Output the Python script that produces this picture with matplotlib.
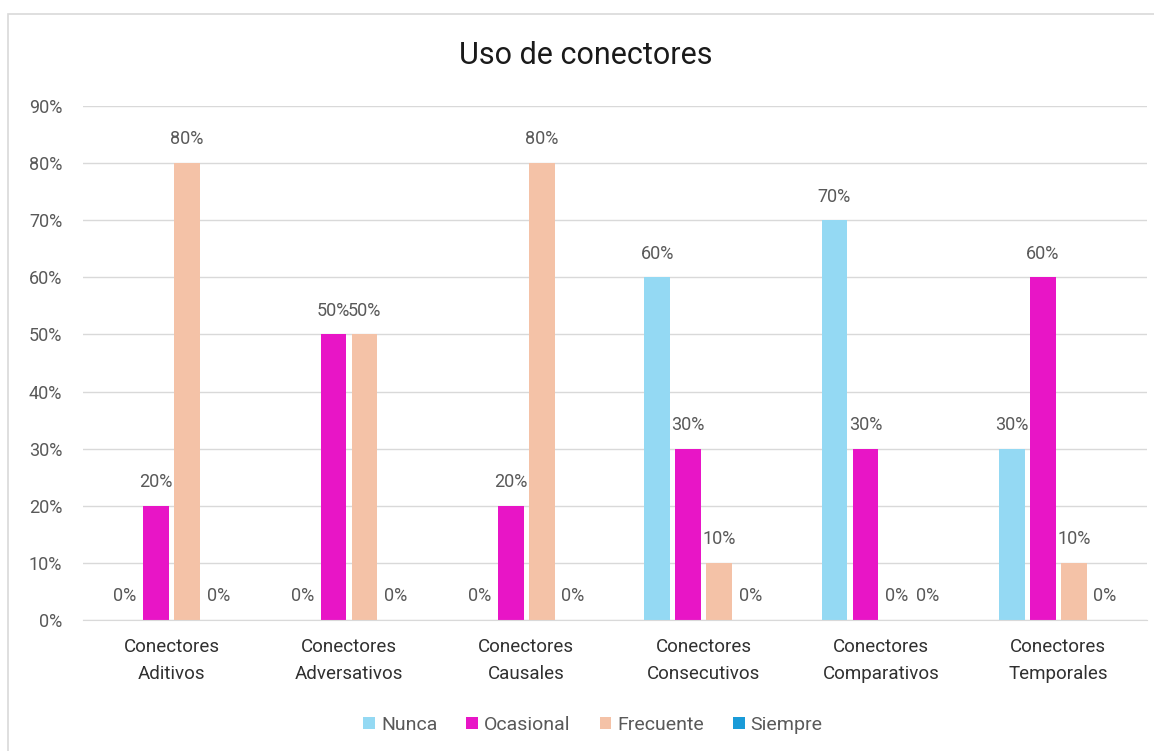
import matplotlib
matplotlib.use("Agg")
import matplotlib.pyplot as plt
from matplotlib.patches import Rectangle
import numpy as np

categories = ["Conectores\nAditivos", "Conectores\nAdversativos", "Conectores\nCausales",
              "Conectores\nConsecutivos", "Conectores\nComparativos", "Conectores\nTemporales"]
series_names = ["Nunca", "Ocasional", "Frecuente", "Siempre"]
nunca = [0.0, 0.0, 0.0, 0.6, 0.7, 0.3]
ocasional = [0.2, 0.5, 0.2, 0.3, 0.3, 0.6]
frecuente = [0.8, 0.5, 0.8, 0.1, 0.0, 0.1]
siempre = [0.0, 0.0, 0.0, 0.0, 0.0, 0.0]
yticks = [0, 0.1, 0.2, 0.3, 0.4, 0.5, 0.6, 0.7, 0.8, 0.9]
colors = ["#94D9F3", "#E815C6", "#F4C2A7", "#1A9BD8"]

plt.rcParams['font.family'] = ['Roboto', 'DejaVu Sans']

fig = plt.figure(figsize=(11.54, 7.51), dpi=100)
fig.patch.set_facecolor("white")
fig.patches.append(Rectangle((8/1154, -0.05), 1.2, 1 - 14/751 + 0.05, transform=fig.transFigure,
                             fill=False, edgecolor="#D9D9D9", linewidth=1.2))

ax = fig.add_axes([83/1154, 1 - 620/751, (1147 - 83)/1154, (620 - 106)/751])
x = np.arange(len(categories))
width = 0.144
step = 0.175
all_series = [nunca, ocasional, frecuente, siempre]
for i, (name, vals, c) in enumerate(zip(series_names, all_series, colors)):
    pos = x + (i - 1.5) * step
    ax.bar(pos, vals, width=width, color=c, label=name, zorder=3)
    for p, v in zip(pos, vals):
        ax.annotate(f"{int(round(v*100))}%", (p, v), xytext=(0, 17), textcoords="offset points",
                    ha="center", va="center", fontsize=13, color="#595959")

ax.set_xlim(-0.5, len(categories) - 0.5)
ax.set_ylim(0, 0.9)
ax.set_yticks(yticks)
ax.set_yticklabels([f"{int(round(t*100))}%" for t in yticks])
ax.set_xticks(x)
ax.set_xticklabels(categories, linespacing=1.65)
ax.tick_params(axis="y", length=0, pad=15, labelsize=13, labelcolor="#595959")
ax.tick_params(axis="x", length=0, pad=13, labelsize=13.5, labelcolor="#303030")
ax.grid(axis="y", color="#D9D9D9", linewidth=1, zorder=0)
for s in ["top", "right", "left"]:
    ax.spines[s].set_visible(False)
ax.spines["bottom"].set_color("#D9D9D9")
ax.spines["bottom"].set_zorder(4)

fig.text(586/1154, 1 - 56/751, "Uso de conectores", ha="center", va="center", fontsize=22, color="#1a1a1a")

fig.legend(loc="center", bbox_to_anchor=(593/1154, 1 - 725/751), ncol=4, frameon=False,
           fontsize=14, handlelength=0.6, handleheight=0.6, handletextpad=0.3,
           columnspacing=1.5, labelcolor="#595959")

fig.savefig("out.png", dpi=100, facecolor="white")
